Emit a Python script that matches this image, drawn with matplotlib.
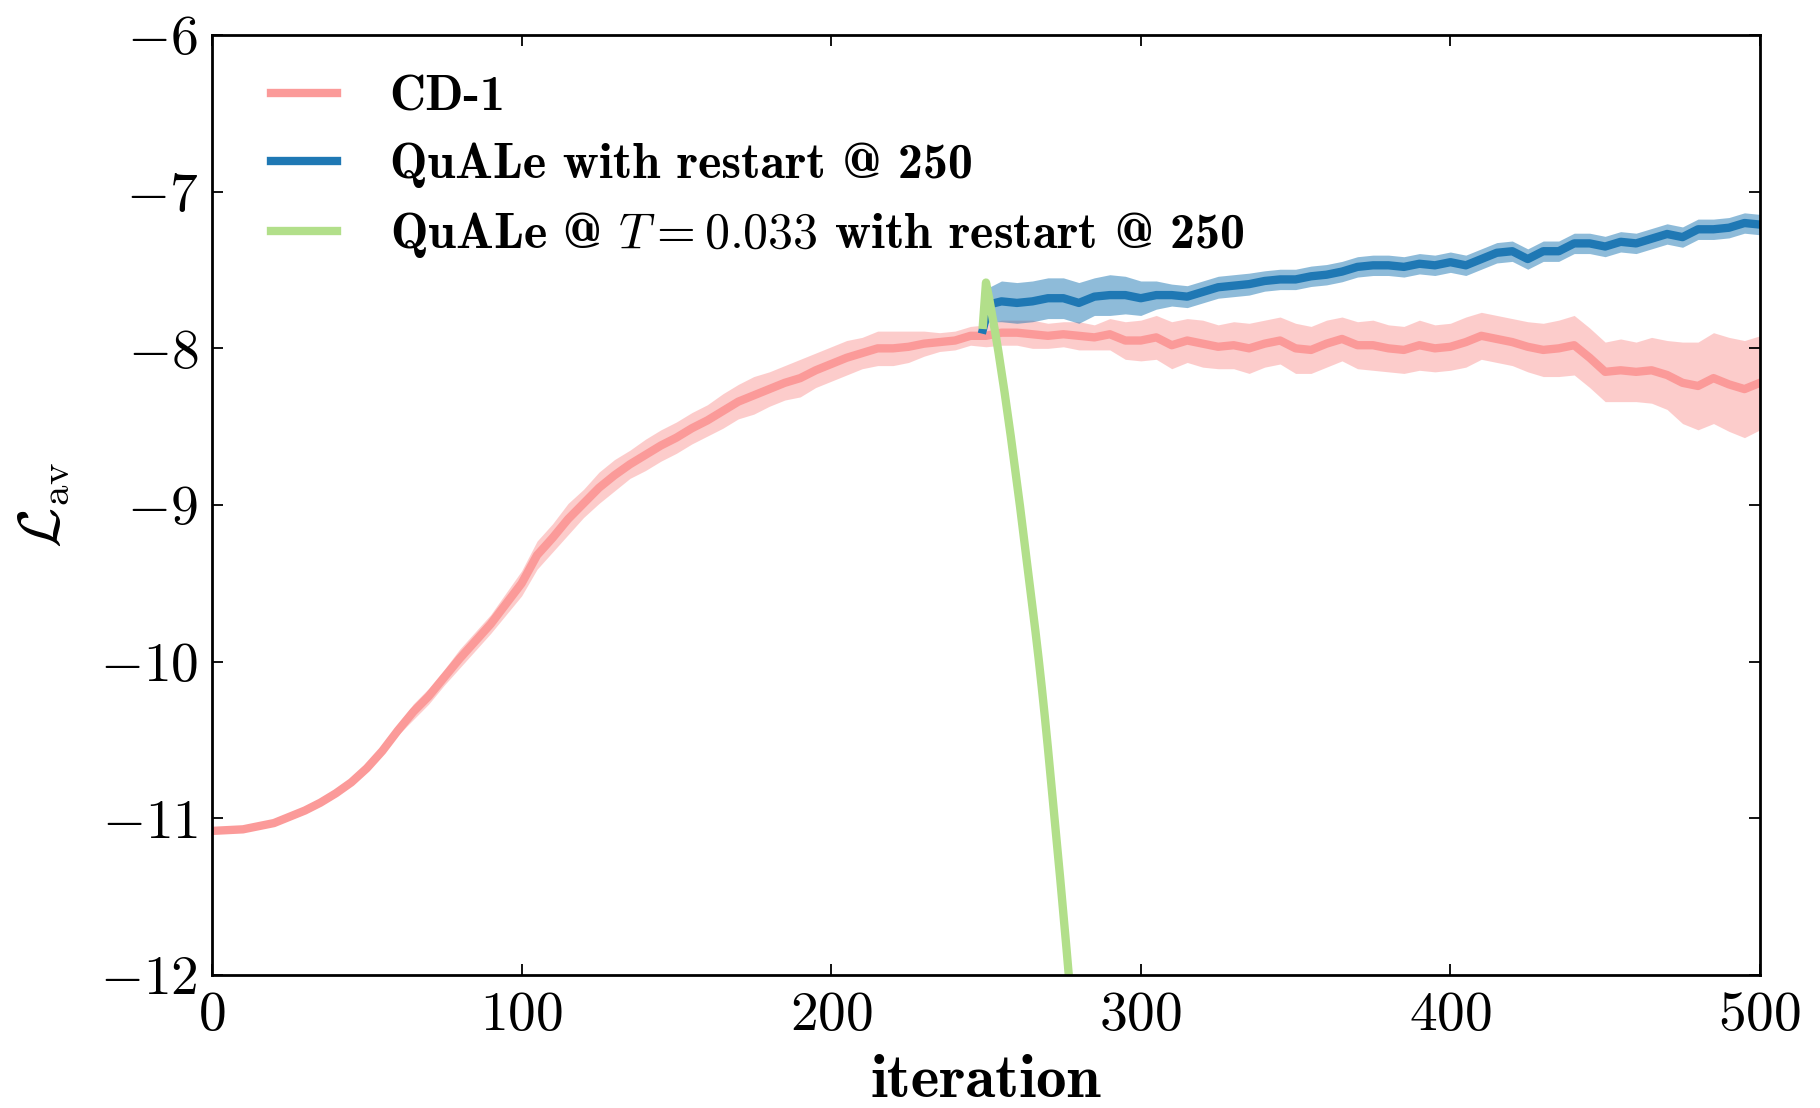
import numpy as np
import matplotlib
matplotlib.use('Agg')
from matplotlib import pyplot as plt

plt.rcParams['mathtext.fontset'] = 'cm'
plt.rcParams['axes.formatter.use_mathtext'] = True
plt.rcParams['font.family'] = 'cmr10'

# CD-1: mean and half-width of the shaded band, every 5 iterations
cd_iter = np.arange(0, 505, 5)
cd_mean = [-11.08, -11.075, -11.07, -11.05, -11.03, -10.99, -10.95, -10.90, -10.84, -10.77,
           -10.68, -10.57, -10.44, -10.32, -10.22, -10.10, -9.98, -9.87, -9.76, -9.63,
           -9.50, -9.32, -9.21, -9.09, -8.99, -8.89, -8.81, -8.74, -8.68, -8.62,
           -8.57, -8.51, -8.46, -8.40, -8.34, -8.30, -8.26, -8.22, -8.19, -8.14,
           -8.10, -8.06, -8.03, -8.00, -8.00, -7.99, -7.97, -7.96, -7.95, -7.92,
           -7.92, -7.90, -7.90, -7.91, -7.92, -7.91, -7.92, -7.93, -7.91, -7.95,
           -7.95, -7.93, -7.98, -7.95, -7.97, -7.99, -7.98, -8.00, -7.97, -7.95,
           -8.00, -8.01, -7.97, -7.94, -7.98, -7.98, -8.00, -8.01, -7.98, -8.00,
           -7.99, -7.96, -7.92, -7.94, -7.96, -7.99, -8.01, -8.00, -7.98, -8.06,
           -8.15, -8.14, -8.15, -8.14, -8.17, -8.22, -8.24, -8.19, -8.23, -8.26,
           -8.22]
cd_err = [0.0, 0.0, 0.0, 0.0, 0.0, 0.0, 0.0, 0.0, 0.0, 0.01,
          0.01, 0.02, 0.03, 0.05, 0.05, 0.05, 0.06, 0.06, 0.06, 0.07,
          0.08, 0.09, 0.09, 0.10, 0.09, 0.10, 0.10, 0.09, 0.10, 0.10,
          0.10, 0.10, 0.10, 0.11, 0.11, 0.12, 0.11, 0.11, 0.12, 0.11,
          0.11, 0.11, 0.10, 0.11, 0.11, 0.10, 0.08, 0.06, 0.06, 0.06,
          0.07, 0.08, 0.08, 0.09, 0.08, 0.08, 0.09, 0.08, 0.10, 0.12,
          0.13, 0.14, 0.15, 0.14, 0.15, 0.14, 0.15, 0.16, 0.15, 0.15,
          0.16, 0.15, 0.15, 0.14, 0.15, 0.16, 0.15, 0.15, 0.16, 0.15,
          0.15, 0.16, 0.15, 0.15, 0.15, 0.16, 0.17, 0.18, 0.19, 0.19,
          0.19, 0.20, 0.19, 0.21, 0.22, 0.26, 0.28, 0.29, 0.30, 0.31,
          0.30]

# QuALe with restart at 250
qa_iter = [249, 251] + list(range(255, 505, 5))
qa_mean = [-7.88, -7.72, -7.70, -7.71, -7.70, -7.68, -7.68, -7.71, -7.67, -7.66,
           -7.66, -7.68, -7.66, -7.66, -7.67, -7.64, -7.61, -7.60, -7.59, -7.57,
           -7.56, -7.56, -7.54, -7.53, -7.51, -7.48, -7.47, -7.47, -7.48, -7.46,
           -7.47, -7.45, -7.47, -7.43, -7.39, -7.38, -7.43, -7.38, -7.38, -7.33,
           -7.33, -7.35, -7.32, -7.33, -7.30, -7.27, -7.29, -7.24, -7.24, -7.23,
           -7.20, -7.21]
qa_err = [0.02, 0.11, 0.13, 0.13, 0.13, 0.13, 0.13, 0.13, 0.12, 0.13,
          0.12, 0.11, 0.09, 0.07, 0.07, 0.07, 0.07, 0.07, 0.07, 0.065,
          0.065, 0.065, 0.065, 0.065, 0.065, 0.065, 0.065, 0.065, 0.065, 0.065,
          0.065, 0.065, 0.065, 0.065, 0.065, 0.065, 0.065, 0.065, 0.065, 0.065,
          0.065, 0.065, 0.065, 0.065, 0.065, 0.065, 0.065, 0.065, 0.065, 0.065,
          0.065, 0.065]

# QuALe @ T=0.033 with restart at 250
qt_iter = list(range(249, 279))
qt_mean = [-7.85, -7.58, -7.68, -7.79, -7.90, -8.02, -8.15, -8.28, -8.42, -8.56,
           -8.71, -8.86, -9.01, -9.17, -9.33, -9.49, -9.65, -9.81, -9.98, -10.16,
           -10.35, -10.55, -10.76, -10.97, -11.18, -11.39, -11.61, -11.83, -12.06, -12.30]

red = '#fb9a99'
blue = '#1f78b4'
green = '#b2df8a'

fig = plt.figure(figsize=(18.2, 11.08), dpi=100)
ax = fig.add_axes([0.1165, 0.12, 0.8505, 0.8484])

cd_mean = np.array(cd_mean)
cd_err = np.array(cd_err)
qa_mean = np.array(qa_mean)
qa_err = np.array(qa_err)

ax.fill_between(cd_iter, cd_mean - cd_err, cd_mean + cd_err, color=red, alpha=0.5, lw=0)
ax.plot(cd_iter, cd_mean, color=red, lw=6, label='CD-1')
ax.fill_between(qa_iter, qa_mean - qa_err, qa_mean + qa_err, color=blue, alpha=0.5, lw=0)
ax.plot(qa_iter, qa_mean, color=blue, lw=6, label='QuALe with restart @ 250')
ax.plot(qt_iter, qt_mean, color=green, lw=6,
        label=r'QuALe @ $T = 0.033$ with restart @ 250')

ax.set_xlim(0, 500)
ax.set_ylim(-12, -6)
ax.set_xticks([0, 100, 200, 300, 400, 500])
ax.set_yticks([-12, -11, -10, -9, -8, -7, -6])
ax.tick_params(direction='in', top=True, right=True, length=8, width=1.3,
               labelsize=40)
ax.tick_params(axis='x', pad=12)
ax.tick_params(axis='y', pad=10)
for s in ax.spines.values():
    s.set_linewidth(2)

ax.set_xlabel('iteration', fontfamily='cmb10', fontsize=44, labelpad=10)
ax.set_ylabel(r'$\mathcal{L}_{\rm av}$', fontsize=42, labelpad=20)

ax.legend(loc='upper left', bbox_to_anchor=(0.025, 0.978), borderaxespad=0,
          frameon=False, prop={'family': 'cmb10', 'size': 36},
          handlelength=1.33, handletextpad=1.05, labelspacing=0.44)

fig.savefig('out.png', dpi=100)
